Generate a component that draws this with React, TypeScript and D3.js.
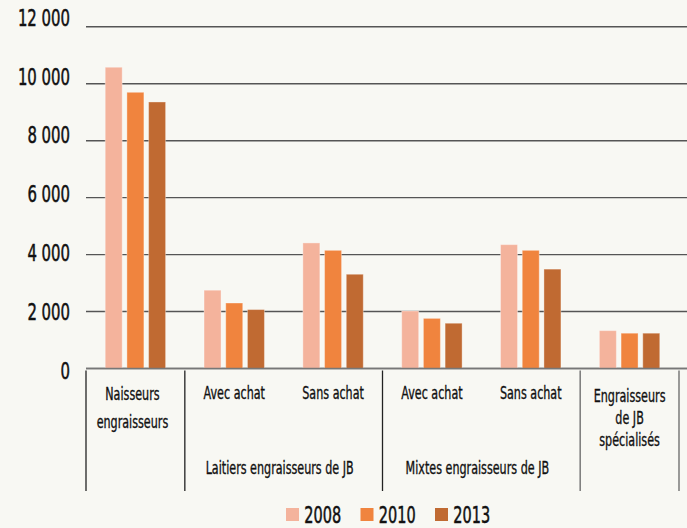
import React from "react";
import * as d3 from "d3";

const categories = ["Naisseurs engraisseurs", "Avec achat", "Sans achat", "Avec achat", "Sans achat", "Engraisseurs de JB spécialisés"];
const categoryLines = [["Naisseurs", "engraisseurs"], ["Avec achat"], ["Sans achat"], ["Avec achat"], ["Sans achat"], ["Engraisseurs", "de JB", "spécialisés"]];
const superGroups = ["", "Laitiers engraisseurs de JB", "Mixtes engraisseurs de JB", ""];
const superSpans = [[0, 0], [1, 2], [3, 4], [5, 5]];
const seriesNames = ["2008", "2010", "2013"];
const values2008 = [10580, 2750, 4410, 2020, 4350, 1330];
const values2010 = [9700, 2300, 4150, 1760, 4150, 1240];
const values2013 = [9360, 2070, 3310, 1590, 3490, 1240];
const yTicks = [0, 2000, 4000, 6000, 8000, 10000, 12000];
const colors = ["#F4B39C", "#F0843E", "#C06A32"];

const W = 687, H = 528;
const FONT = "'DejaVu Sans Condensed', 'DejaVu Sans', sans-serif";

function fmt(v: number) {
  return d3.format(",")(v).replace(/,/g, " ");
}

function SText(props: { x: number; y: number; size: number; sx: number; anchor?: string; children: any; sw?: number }) {
  const { x, y, size, sx, anchor = "middle", children, sw = 0.4 } = props;
  return (
    <text transform={`translate(${x},${y}) scale(${sx},1)`} fontSize={size} fontFamily={FONT} textAnchor={anchor} fill="#111" stroke="#111" strokeWidth={sw}>
      {children}
    </text>
  );
}

export default function App() {
  const series = [values2008, values2010, values2013];
  const y = d3.scaleLinear().domain([0, 12000]).range([368.5, 26.8]);
  const yLab = d3.scaleLinear().domain([0, 12000]).range([370, 17.2]);
  const x0 = d3.scaleBand().domain(categories.map((_, i) => String(i))).range([86, 679]).paddingInner(0).paddingOuter(0);
  const x1 = d3.scaleBand().domain(seriesNames).range([19.2, 79.6]).paddingInner(0.217).paddingOuter(0);

  const groupStart = (i: number) => x0(String(i)) as number;
  const groupCenter = (i: number) => groupStart(i) + x0.bandwidth() / 2;
  const dividers = [...superSpans.map((s) => groupStart(s[0])), groupStart(5) + x0.bandwidth()];

  const lineBase = [[400, 428], [399.3], [399.3], [399.3], [399.3], [401.7, 424, 446]];

  return (
    <svg width={W} height={H} style={{ position: "absolute", left: 0, top: 0, background: "#F8F8F3" }}>
      <rect x={0} y={0} width={W} height={H} fill="#F8F8F3" />
      {yTicks.map((t) => (
        <line key={"g" + t} x1={86} x2={W} y1={y(t)} y2={y(t)} stroke={t === 0 ? "#666" : "#555"} strokeWidth={1.4} />
      ))}
      {yTicks.map((t) => (
        <g key={"l" + t}>
          <SText x={70} y={yLab(t) + 8.5} size={23} sx={0.72} anchor="end" sw={0.5}>{fmt(t)}</SText>
        </g>
      ))}
      {series.map((vals, si) =>
        vals.map((v, ci) => (
          <rect
            key={si + "-" + ci}
            x={groupStart(ci) + (x1(seriesNames[si]) as number)}
            y={y(v)}
            width={x1.bandwidth()}
            height={y(0) - y(v)}
            fill={colors[si]}
            stroke="#ffffff"
            strokeOpacity={0.35}
            strokeWidth={1}
          />
        ))
      )}
      <line x1={86} x2={W} y1={y(0)} y2={y(0)} stroke="#777" strokeWidth={1.6} />
      {dividers.map((dx, i) => (
        <line key={"d" + i} x1={dx} x2={dx} y1={370.5} y2={491} stroke={i >= 3 ? "#666" : "#222"} strokeWidth={1.3} />
      ))}
      {categoryLines.map((lines, ci) =>
        lines.map((ln, li) => (
          <SText key={ci + "-" + li} x={groupCenter(ci) - (ci === 0 ? 3 : 0)} y={lineBase[ci][li]} size={18} sx={0.69} sw={0.35}>{ln}</SText>
        ))
      )}
      {superGroups.map((lab, i) =>
        lab ? (
          <SText key={"s" + i} x={(groupStart(superSpans[i][0]) + groupStart(superSpans[i][1]) + x0.bandwidth()) / 2 - 4} y={474.3} size={18} sx={0.69} sw={0.35}>{lab}</SText>
        ) : null
      )}
      {seriesNames.map((s, i) => (
        <g key={"lg" + s}>
          <rect x={286 + i * 74.5} y={508} width={13} height={13} fill={colors[i]} />
          <SText x={304.3 + i * 74.5} y={522.5} size={23} sx={0.7} anchor="start" sw={0.5}>{s}</SText>
        </g>
      ))}
    </svg>
  );
}
